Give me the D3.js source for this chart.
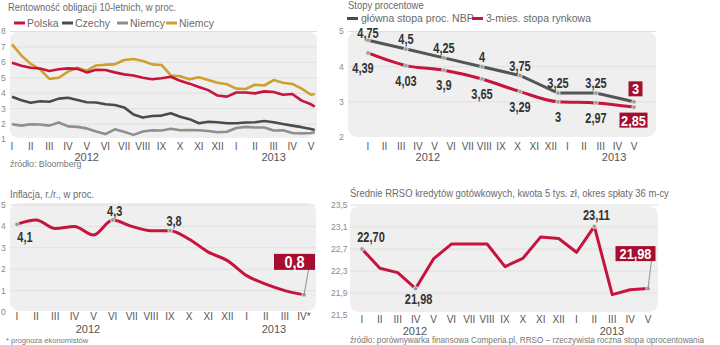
<!DOCTYPE html>
<html><head><meta charset="utf-8">
<script src="https://cdn.jsdelivr.net/npm/d3@7"></script>
<style>
html,body{margin:0;padding:0;background:#fff;}
svg{display:block;font-family:"Liberation Sans","Open Sans",sans-serif;}
.title{font-size:11px;fill:#6a6a6a;}
.leg{font-size:10.5px;fill:#6a6a6a;}
.ytick{font-size:8.5px;fill:#8a8a8a;}
.mon{font-size:10px;fill:#555;}
.year{font-size:11px;fill:#555;}
.src{font-size:7.5px;fill:#777;}
.val{font-weight:bold;font-size:14.5px;fill:#333;}
.box{font-weight:bold;font-size:15px;fill:#fff;}
</style></head>
<body><svg id="c" width="720" height="345"></svg>
<script>
// ---------- DATA ----------
const months2012_13 = ["I","II","III","IV","V","VI","VII","VIII","IX","X","XI","XII","I","II","III","IV","V"];
const inflMonths = ["I","II","III","IV","V","VI","VII","VIII","IX","X","XI","XII","I","II","III","IV*"];
const years = ["2012","2013"];

// Panel 1: 10-year bond yields (half-month sampling, months since Jan 2012)
const bondT = [0,0.5,1,1.5,2,2.5,3,3.5,4,4.5,5,5.5,6,6.5,7,7.5,8,8.5,9,9.5,10,10.5,11,11.5,12,12.5,13,13.5,14,14.5,15,15.5,16,16.2];
const polska = [5.98,5.78,5.65,5.6,5.44,5.55,5.61,5.58,5.35,5.52,5.5,5.35,5.22,5.15,5.0,4.9,4.97,5.07,4.8,4.62,4.4,4.2,3.85,3.78,4.05,4.05,3.99,4.12,4.08,3.9,3.95,3.52,3.28,3.13];
const czechy = [3.77,3.55,3.38,3.48,3.45,3.65,3.71,3.56,3.41,3.4,3.28,3.24,3.08,2.62,2.42,2.52,2.55,2.7,2.48,2.32,2.05,2.15,2.12,2.05,2.05,2.1,2.12,2.2,2.12,2.0,1.9,1.8,1.68,1.62];
const niemcy = [1.99,1.9,1.99,1.97,1.9,2.1,1.85,1.82,1.72,1.52,1.35,1.66,1.5,1.3,1.52,1.6,1.58,1.7,1.6,1.62,1.6,1.55,1.47,1.5,1.75,1.82,1.78,1.78,1.58,1.6,1.42,1.4,1.42,1.47];
const niemcy2 = [7.17,6.45,5.9,5.55,4.93,5.0,5.4,5.65,5.46,5.8,5.85,5.87,6.15,6.22,6.09,5.87,5.83,5.15,5.1,4.9,5.03,4.85,4.68,4.58,4.3,4.27,4.55,4.5,4.85,4.68,4.6,4.3,3.9,3.95];
const bondTicks = [1,2,3,4,5,6,7,8];
const bondLegend = ["Polska","Czechy","Niemcy","Niemcy"];

// Panel 2: interest rates
const nbp = [4.75,4.5,4.25,4,3.75,3.25,3.25,3];
const wibor3m = [4.39,4.03,3.9,3.65,3.29,3,2.97,2.85];
const nbpLabels = ["4,75","4,5","4,25","4","3,75","3,25","3,25","3"];
const wiborLabels = ["4,39","4,03","3,9","3,65","3,29","3","2,97","2,85"];
const rateTicks = [2,3,4,5];
const rateLegend = ["główna stopa proc. NBP","3-mies. stopa rynkowa"];

// Panel 3: inflation
const inflacja = [4.1,4.3,3.9,4.0,3.6,4.3,4.0,3.8,3.8,3.4,2.8,2.4,1.7,1.3,1.0,0.8];
const inflTicks = [0,1,2,3,4,5];
const inflLabels = [[0,"4,1"],[5,"4,3"],[8,"3,8"]];

// Panel 4: RRSO
const rrso = [22.70,22.35,22.27,21.98,22.52,22.79,22.79,22.79,22.38,22.53,22.92,22.89,22.64,23.11,21.87,21.96,21.98];
const rrsoTicks = [21.5,21.9,22.3,22.7,23.1,23.5];
const rrsoLabels = [[0,"22,70"],[3,"21,98"],[13,"23,11"]];

// ---------- STYLE ----------
const RED = "#c6143f", BOXRED = "#a50e2e", DARK = "#4b4b4b", LGRAY = "#8f8f8f", GOLD = "#d0a02e";
const BG = "#efefef", GRID = "#e0e0e0";
const fmt = v => String(v).replace(".", ",");
const SX = 0.76;   // horizontal condensing for bold value labels
const TSX = 0.86;  // condensing for titles

const svg = d3.select("#c");

function ctext(x, y, txt, cls, sx, anchor) {
  return svg.append("text").attr("class", cls)
    .attr("transform", `translate(${x},${y}) scale(${sx},1)`)
    .attr("dy", "0.36em").attr("text-anchor", anchor || "middle").text(txt);
}
function title(x, y, txt) {
  svg.append("text").attr("class", "title").attr("transform", `translate(${x},${y}) scale(${TSX},1)`).text(txt);
}
function panel(x0, x1, y0, y1) {
  svg.append("rect").attr("x", x0).attr("y", y0).attr("width", x1 - x0).attr("height", y1 - y0)
    .attr("rx", 9).attr("fill", BG);
}
function grid(ys, ticks, x0, x1, skipFirst) {
  ticks.forEach((t, i) => {
    if (skipFirst && i === 0) return;
    svg.append("line").attr("x1", x0).attr("x2", x1).attr("y1", ys(t)).attr("y2", ys(t))
      .attr("stroke", GRID).attr("stroke-width", 1);
  });
}
function yLabels(ys, ticks, x, f) {
  svg.selectAll(null).data(ticks).enter().append("text").attr("class", "ytick")
    .attr("x", x).attr("y", d => ys(d)).attr("dy", "0.35em").text(f || (d => d));
}
function monthLabels(xs, labels, y) {
  svg.selectAll(null).data(labels).enter().append("text").attr("class", "mon")
    .attr("x", (d, i) => xs(i)).attr("y", y).attr("text-anchor", "middle").text(d => d);
}
function marker(x, y) {
  svg.append("circle").attr("cx", x).attr("cy", y).attr("r", 2.2)
    .attr("fill", "#9a9a9a").attr("stroke", "#e8e8e8").attr("stroke-width", 0.8);
}
function valBox(cx, cy, w, h, txt, fs) {
  svg.append("rect").attr("x", cx - w / 2).attr("y", cy - h / 2).attr("width", w).attr("height", h).attr("fill", BOXRED);
  ctext(cx, cy, txt, "box", 0.85).style("font-size", (fs || 15) + "px");
}

// ================= PANEL 1 =================
{
  const xs = d3.scaleLinear().domain([0, 16]).range([12, 311]);
  const ys = d3.scaleLinear().domain([1, 8]).range([139.5, 31.5]);
  title(8, 11, "Rentowność obligacji 10-letnich, w proc.");
  panel(10, 317, 31, 138);
  grid(ys, bondTicks, 10, 317, true);
  yLabels(ys, bondTicks, 1);
  const cols = [RED, DARK, LGRAY, GOLD];
  const legX = [14, 62, 117, 166];
  bondLegend.forEach((n, i) => {
    svg.append("line").attr("x1", legX[i]).attr("x2", legX[i] + 11).attr("y1", 23).attr("y2", 23)
      .attr("stroke", cols[i]).attr("stroke-width", 3);
    svg.append("text").attr("class", "leg").attr("x", legX[i] + 13).attr("y", 23).attr("dy", "0.35em").text(n);
  });
  const line = d3.line().x((d, i) => xs(bondT[i])).y(d => ys(d));
  [[niemcy, LGRAY], [czechy, DARK], [niemcy2, GOLD], [polska, RED]].forEach(([s, c]) => {
    svg.append("path").attr("d", line(s)).attr("fill", "none").attr("stroke", c)
      .attr("stroke-width", 2.6).attr("stroke-linejoin", "round");
  });
  monthLabels(xs, months2012_13, 150);
  svg.append("text").attr("class", "year").attr("x", xs(4)).attr("y", 161).attr("text-anchor", "middle").text(years[0]);
  svg.append("text").attr("class", "year").attr("x", xs(14)).attr("y", 161).attr("text-anchor", "middle").text(years[1]);
  svg.append("text").attr("class", "src").style("font-size", "8.8px").attr("x", 10).attr("y", 167).text("źródło: Bloomberg");
}

// ================= PANEL 2 =================
{
  const xs = d3.scaleLinear().domain([0, 16]).range([368, 634]);
  const ys = d3.scaleLinear().domain([2, 5]).range([137, 31.5]);
  const pt = i => i * 16 / 7;
  title(348, 8.5, "Stopy procentowe");
  panel(348, 656, 31, 137);
  grid(ys, rateTicks, 348, 656, true);
  yLabels(ys, rateTicks, 339);
  const lg = [[347, DARK, rateLegend[0]], [472, RED, rateLegend[1]]];
  lg.forEach(([x, c, n]) => {
    svg.append("line").attr("x1", x).attr("x2", x + 11).attr("y1", 18.5).attr("y2", 18.5).attr("stroke", c).attr("stroke-width", 3);
    svg.append("text").attr("class", "leg").attr("x", x + 14).attr("y", 18.5).attr("dy", "0.35em").text(n);
  });
  const lineN = d3.line().x((d, i) => xs(pt(i))).y(d => ys(d));
  const lineW = d3.line().x((d, i) => xs(pt(i))).y(d => ys(d)).curve(d3.curveMonotoneX);
  svg.append("path").attr("d", lineN(nbp)).attr("fill", "none").attr("stroke", "#555").attr("stroke-width", 3);
  svg.append("path").attr("d", lineW(wibor3m)).attr("fill", "none").attr("stroke", RED).attr("stroke-width", 3);
  nbp.forEach((v, i) => marker(xs(pt(i)), ys(v)));
  wibor3m.forEach((v, i) => marker(xs(pt(i)), ys(v)));
  nbp.forEach((v, i) => {
    if (i === nbp.length - 1) return;
    ctext(xs(pt(i)), ys(v) - (i === 0 ? 8 : 10), nbpLabels[i], "val", SX);
  });
  wibor3m.forEach((v, i) => {
    if (i === wibor3m.length - 1) return;
    ctext(xs(pt(i)) + (i === 0 ? -5 : 0), ys(v) + 15, wiborLabels[i], "val", SX);
  });
  const last = nbp.length - 1;
  valBox(xs(pt(last)) + 1.5, ys(nbp[last]) - 13, 14, 15, nbpLabels[last]);
  valBox(xs(pt(last)) - 0.5, ys(wibor3m[last]) + 13, 28, 15, wiborLabels[last]);
  monthLabels(xs, months2012_13, 150);
  svg.append("text").attr("class", "year").attr("x", xs(3.6)).attr("y", 161).attr("text-anchor", "middle").text(years[0]);
  svg.append("text").attr("class", "year").attr("x", xs(14.8)).attr("y", 161).attr("text-anchor", "middle").text(years[1]);
}

// ================= PANEL 3 =================
{
  const xs = d3.scaleLinear().domain([0, 15]).range([17, 304]);
  const ys = d3.scaleLinear().domain([0, 5]).range([312, 205]);
  title(10, 198, "Inflacja, r./r., w proc.");
  panel(10, 316, 203, 311);
  grid(ys, inflTicks, 10, 316, true);
  yLabels(ys, inflTicks, 1);
  const line = d3.line().x((d, i) => xs(i)).y(d => ys(d)).curve(d3.curveMonotoneX);
  svg.append("path").attr("d", line(inflacja)).attr("fill", "none").attr("stroke", RED).attr("stroke-width", 3);
  const lastI = inflacja.length - 1;
  inflLabels.forEach(([i]) => marker(xs(i), ys(inflacja[i])));
  marker(xs(lastI), ys(inflacja[lastI]));
  const offs = {0: [8, 13], 5: [2, -9], 8: [4, -10]};
  inflLabels.forEach(([i, t]) => {
    ctext(xs(i) + offs[i][0], ys(inflacja[i]) + offs[i][1], t, "val", SX);
  });
  const bx = xs(lastI) - 9.5, by = ys(inflacja[lastI]) - 33;
  svg.append("line").attr("x1", bx + 14).attr("y1", by + 8).attr("x2", xs(lastI)).attr("y2", ys(inflacja[lastI]))
    .attr("stroke", "#777").attr("stroke-width", 0.8);
  valBox(bx, by, 41, 16, fmt(inflacja[lastI]), 17);
  monthLabels(xs, inflMonths, 320);
  svg.append("text").attr("class", "year").attr("x", 88).attr("y", 333).attr("text-anchor", "middle").text(years[0]);
  svg.append("text").attr("class", "year").attr("x", 274).attr("y", 333).attr("text-anchor", "middle").text(years[1]);
  svg.append("text").attr("class", "src").attr("x", 6).attr("y", 343).text("* prognoza ekonomistów");
}

// ================= PANEL 4 =================
{
  const xs = d3.scaleLinear().domain([0, 16]).range([362, 648]);
  const ys = d3.scaleLinear().domain([21.5, 23.5]).range([315, 205]);
  title(350, 197, "Średnie RRSO kredytów gotówkowych, kwota 5 tys. zł, okres spłaty 36 m-cy");
  panel(350, 658, 206, 312);
  grid(ys, rrsoTicks, 350, 658, true);
  yLabels(ys, rrsoTicks, 331, d => d3.format(".1f")(d).replace(".", ","));
  const line = d3.line().x((d, i) => xs(i)).y(d => ys(d));
  svg.append("path").attr("d", line(rrso)).attr("fill", "none").attr("stroke", RED).attr("stroke-width", 3)
    .attr("stroke-linejoin", "round");
  const lastI = rrso.length - 1;
  rrsoLabels.forEach(([i]) => marker(xs(i), ys(rrso[i])));
  marker(xs(lastI), ys(rrso[lastI]));
  const offs = {0: [9, -12], 3: [3, 10], 13: [2, -12]};
  rrsoLabels.forEach(([i, t]) => {
    ctext(xs(i) + offs[i][0], ys(rrso[i]) + offs[i][1], t, "val", SX);
  });
  const bx = xs(lastI) - 12.5, by = ys(rrso[lastI]) - 35;
  svg.append("line").attr("x1", bx + 16).attr("y1", by + 7).attr("x2", xs(lastI)).attr("y2", ys(rrso[lastI]))
    .attr("stroke", "#777").attr("stroke-width", 0.8);
  valBox(bx, by, 40, 15, d3.format(".2f")(rrso[lastI]).replace(".", ","));
  monthLabels(xs, months2012_13, 323);
  svg.append("text").attr("class", "year").attr("x", 415).attr("y", 335).attr("text-anchor", "middle").text(years[0]);
  svg.append("text").attr("class", "year").attr("x", 612).attr("y", 335).attr("text-anchor", "middle").text(years[1]);
  svg.append("text").attr("class", "src").style("font-size", "8.2px").attr("x", 350).attr("y", 343)
    .text("źródło: porównywarka finansowa Comperia.pl, RRSO – rzeczywista roczna stopa oprocentowania");
}
</script></body></html>
